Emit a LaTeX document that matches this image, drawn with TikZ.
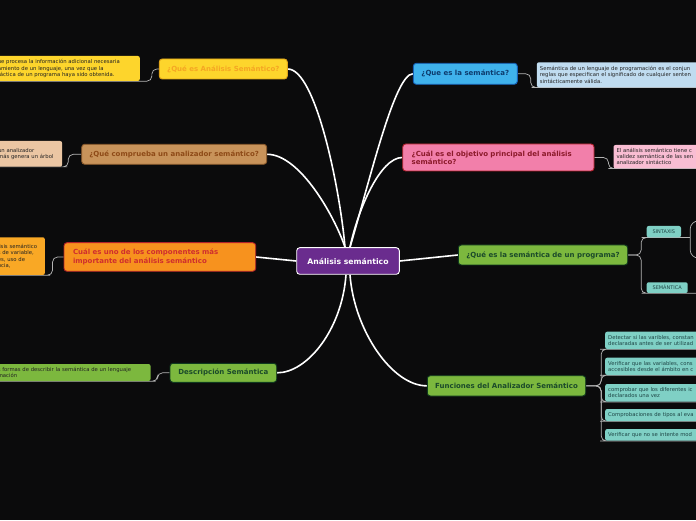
\documentclass[tikz,border=0pt]{standalone}
\usepackage{fontspec}
\setmainfont{DejaVu Sans}
\usepackage{tikz}
\usetikzlibrary{backgrounds, calc}

\definecolor{canvas}{HTML}{0B0B0C}
\definecolor{rootpurple}{HTML}{6A2C8E}
\definecolor{yellowfill}{HTML}{FDD52C}
\definecolor{yellowline}{HTML}{E0A418}
\definecolor{yellowtext}{HTML}{F5A623}
\definecolor{brownfill}{HTML}{C8935A}
\definecolor{brownline}{HTML}{8B5A2B}
\definecolor{browntext}{HTML}{8E4A17}
\definecolor{brownnote}{HTML}{EBC6A3}
\definecolor{orangefill}{HTML}{F7921E}
\definecolor{orangeline}{HTML}{B2222A}
\definecolor{orangetext}{HTML}{CF2E2E}
\definecolor{orangenote}{HTML}{F9A825}
\definecolor{greenfill}{HTML}{7CB83E}
\definecolor{greenline}{HTML}{0F3A1E}
\definecolor{greentext}{HTML}{1B4A2A}
\definecolor{bluefill}{HTML}{3FB2EC}
\definecolor{blueline}{HTML}{1560B8}
\definecolor{bluetext}{HTML}{0D3C6E}
\definecolor{bluenote}{HTML}{C0DCF0}
\definecolor{pinkfill}{HTML}{F27FAA}
\definecolor{pinkline}{HTML}{B0202A}
\definecolor{pinktext}{HTML}{8B1A2A}
\definecolor{pinknote}{HTML}{F9BDD3}
\definecolor{leafteal}{HTML}{7FD0C5}
\definecolor{leaftext}{HTML}{1E4545}
\definecolor{notetext}{HTML}{222222}
\definecolor{linkgray}{HTML}{B4B4B4}

\begin{document}
\begin{tikzpicture}[
    x=1pt, y=1pt,
    font=\fontsize{5.3}{6.2}\selectfont,
    root/.style={draw=white, fill=rootpurple, text=white, line width=0.9pt, rounded corners=3pt, font=\bfseries\fontsize{7.7}{9}\selectfont, minimum width=102.6, minimum height=26.6, inner sep=0pt},
    topic/.style={line width=0.9pt, rounded corners=3pt, font=\bfseries\fontsize{7}{8.4}\selectfont, inner sep=0pt},
    note/.style={rounded corners=2pt, align=left, text=notetext, inner xsep=3pt, inner ysep=0pt, font=\fontsize{5.3}{6.2}\selectfont},
    leaf/.style={note, fill=leafteal, text=leaftext},
    branch/.style={draw=white, line width=1.6pt},
    link/.style={draw=linkgray, line width=0.7pt, rounded corners=5pt}
]
\useasboundingbox (0,0) rectangle (696,520);

% Nodes
\node[root] (root) at (348,259) {Análisis semántico};

% Left side
\node[topic, fill=yellowfill, draw=yellowline, text=yellowtext, minimum width=128, minimum height=20] (qana) at (223.3,451) {¿Qué es Análisis Semántico?};
\node[note, fill=yellowfill, anchor=east, text width=139, minimum height=25] (qananote) at (140,451.5) {ue procesa la información adicional necesaria\\amiento de un lenguaje, una vez que la\\táctica de un programa haya sido obtenida.};

\node[topic, fill=brownfill, draw=brownline, text=browntext, minimum width=185, minimum height=20] (check) at (174.2,365.7) {¿Qué comprueba un analizador semántico?};
\node[note, fill=brownnote, anchor=east, text width=61, minimum height=25.7] (checknote) at (62.3,366.15) {un analizador\\más genera un árbol};

\node[topic, fill=orangefill, draw=orangeline, text=orangetext, minimum height=28.6, text width=173.7, inner xsep=9pt, align=left] (part) at (159.85,263) {Cuál es uno de los componentes más\\importante del análisis semántico};
\node[note, fill=orangenote, anchor=east, text width=44, minimum height=37.7] (partnote) at (45,263.85) {lisis semántico\\s de variable,\\es, uso de\\ncia,};

\node[topic, fill=greenfill, draw=greenline, text=greentext, minimum width=106.7, minimum height=19] (desc) at (223.35,147.2) {Descripción Semántica};
\node[note, fill=greenfill, anchor=east, text width=149.7, minimum height=17] (descnote) at (150.7,147.5) {s formas de describir la semántica de un lenguaje\\mación};

% Right side
\node[topic, fill=bluefill, draw=blueline, text=bluetext, minimum width=104, minimum height=21] (what) at (465.3,446.2) {¿Que es la semántica?};
\node[note, fill=bluenote, anchor=west, text width=200, minimum height=25] (whatnote) at (536.7,445.2) {Semántica de un lenguaje de programación es el conjun\\reglas que especifican el significado de cualquier senten\\sintácticamente válida.};

\node[topic, fill=pinkfill, draw=pinkline, text=pinktext, minimum height=27, text width=173.3, inner xsep=9pt, align=left] (goal) at (498.35,362.5) {¿Cuál es el objetivo principal del análisis\\semántico?};
\node[note, fill=pinknote, anchor=west, text width=120, minimum height=23.3] (goalnote) at (613.3,363.35) {El análisis semántico tiene c\\validez semántica de las sen\\analizador sintáctico};

\node[topic, fill=greenfill, draw=greenline, text=greentext, minimum width=169.4, minimum height=20] (prog) at (543,265) {¿Qué es la semántica de un programa?};
\node[leaf, minimum width=34.3, minimum height=11.3, align=center, font=\fontsize{5}{6}\selectfont] (sint) at (663.85,288.35) {SINTAXIS};
\node[leaf, minimum width=41, minimum height=10.7, align=center, font=\fontsize{5}{6}\selectfont] (sem) at (667.2,232.35) {SEMÁNTICA};
\coordinate (sintup) at (702,299);
\coordinate (sintdown) at (702,262);

\node[topic, fill=greenfill, draw=greenline, text=greentext, minimum width=158.4, minimum height=20.3] (func) at (506.5,134.15) {Funciones del Analizador Semántico};
\node[leaf, anchor=west, text width=120, minimum height=17.3] (detect) at (605,179.65) {Detectar si las varibles, constan\\declaradas antes de ser utilizad};
\node[leaf, anchor=west, text width=120, minimum height=17.3] (reach) at (605,153.65) {Verificar que las variables, cons\\accesibles desde el ámbito en c};
\node[leaf, anchor=west, text width=120, minimum height=17.7] (unique) at (605,127.15) {comprobar que los diferentes ic\\declarados una vez};
\node[leaf, anchor=west, text width=120, minimum height=12] (types) at (605,105) {Comprobaciones de tipos al eva};
\node[leaf, anchor=west, text width=120, minimum height=11.7] (modify) at (605,85.15) {Verificar que no se intente mod};

% Connectors
\begin{scope}[on background layer]
\fill[canvas] (0,0) rectangle (696,520);

\draw[branch] ($(root.north)+(-3,0)$) .. controls +(-5,58) and +(28,0) .. (qana.east);
\draw[branch] ($(root.north)+(-3,0)$) .. controls +(-10,30) and +(33,0) .. (check.east);
\draw[branch] (root.west) -- (part.east);
\draw[branch] ($(root.south)+(-2,0)$) .. controls +(-4,-55) and +(30,0) .. (desc.east);
\draw[branch] ($(root.north)+(2,0)$) .. controls +(20,68) and +(-18,0) .. (what.west);
\draw[branch] ($(root.north)+(2,0)$) .. controls +(8,38) and +(-22,0) .. (goal.west);
\draw[branch] (root.east) -- (prog.west);
\draw[branch] ($(root.south)+(2,0)$) .. controls +(4,-55) and +(-35,0) .. (func.west);

\draw[link] (qana.west) -- ++(-7,0) |- (qananote.south east) -- (qananote.south west);
\draw[link] (check.west) -- ++(-13,0) |- (checknote.south east) -- (checknote.south west);
\draw[link] (part.west) -- ++(-11,0) |- (partnote.south east) -- (partnote.south west);
\draw[link] (desc.west) -- ++(-12,0) |- (descnote.south east) -- (descnote.south west);
\draw[link] (what.east) -- ++(13,0) |- (whatnote.south west) -- (whatnote.south east);
\draw[link] (goal.east) -- ++(14,0) |- (goalnote.south west) -- (goalnote.south east);

\draw[link] (prog.east) -- ++(13,0) |- (sint.south west) -- (sint.south east) -- ++(9,0) coordinate (sintfork);
\draw[link] (prog.east) -- ++(13,0) |- (sem.south west) -- (sem.south east) -- ++(20,0);
\draw[link, rounded corners=8pt] (sintfork) |- (sintup);
\draw[link, rounded corners=8pt] (sintfork) |- (sintdown);

\draw[link] (func.east) -- ++(15,0) |- (detect.south west) -- (detect.south east);
\draw[link] (func.east) -- ++(15,0) |- (reach.south west) -- (reach.south east);
\draw[link] (func.east) -- ++(15,0) |- (unique.south west) -- (unique.south east);
\draw[link] (func.east) -- ++(15,0) |- (types.south west) -- (types.south east);
\draw[link] (func.east) -- ++(15,0) |- (modify.south west) -- (modify.south east);
\end{scope}

\end{tikzpicture}
\end{document}
